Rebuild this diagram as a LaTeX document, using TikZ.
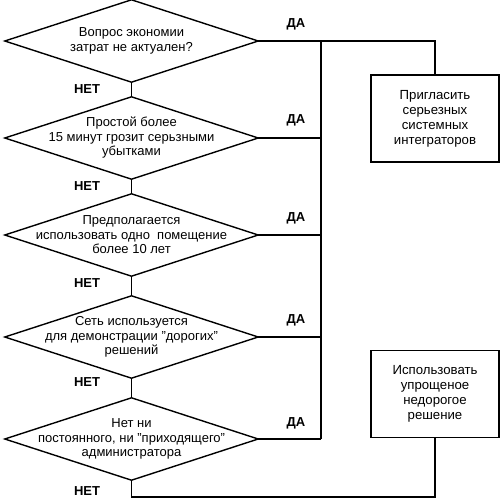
\documentclass[tikz,border=0pt]{standalone}
\usepackage{fontspec}
\setmainfont{Liberation Sans}
\begin{document}
\begin{tikzpicture}[x=1pt,y=-1pt,
  dec/.style={minimum width=253pt,minimum height=82pt,inner sep=0pt,align=center,font=\fontsize{13}{14.5}\selectfont},
  act/.style={draw,line width=1.4pt,minimum width=128pt,minimum height=87pt,inner sep=0pt,align=center,font=\fontsize{13.2}{15}\selectfont},
  lbl/.style={inner sep=0pt,font=\bfseries\fontsize{13}{14}\selectfont},
  conn/.style={line width=1.4pt}]
\useasboundingbox (0,0) rectangle (500,500);
\node[dec] (d1) at (131.5,41) {Вопрос экономии\\затрат не актуален?};
\node[dec] (d2) at (131.5,138) {Простой более\\15 минут грозит серьзными\\убытками};
\node[dec] (d3) at (131.5,235) {Предполагается\\использовать одно\ \ помещение\\более 10 лет};
\node[dec] (d4) at (131.5,337) {Сеть используется\\для демонстрации "дорогих"\\решений};
\node[dec] (d5) at (131.5,439) {Нет ни\\постоянного, ни "приходящего"\\администратора};
\foreach \n in {d1,d2,d3,d4,d5}
  \draw[conn,line join=miter] (\n.west) -- (\n.north) -- (\n.east) -- (\n.south) -- cycle;
\node[act] (b1) at (435,118.5) {Пригласить\\серьезных\\системных\\интеграторов};
\node[act] (b2) at (435,394) {Использовать\\упрощеное\\недорогое\\решение};
\coordinate (bus) at (321,41);
\coordinate (bot) at (131.5,497);
% NET links
\draw[conn] (d1.south) -- (d2.north);
\draw[conn] (d2.south) -- (d3.north);
\draw[conn] (d3.south) -- (d4.north);
\draw[conn] (d4.south) -- (d5.north);
% YES links
\draw[conn] (d1.east) -| (b1.north);
\draw[conn] (d1.east -| bus) -- (d5.east -| bus);
\draw[conn] (d2.east) -- (d2.east -| bus);
\draw[conn] (d3.east) -- (d3.east -| bus);
\draw[conn] (d4.east) -- (d4.east -| bus);
\draw[conn] (d5.east) -- (d5.east -| bus);
\draw[conn] (d5.south) -- (bot) -| (b2.south);
% labels
\node[lbl] (y1) at (296,24) {ДА};
\node[lbl] (y2) at (296,120) {ДА};
\node[lbl] (y3) at (296,218) {ДА};
\node[lbl] (y4) at (296,320) {ДА};
\node[lbl] (y5) at (296,423) {ДА};
\node[lbl] (n1) at (87,89) {НЕТ};
\node[lbl] (n2) at (87,186) {НЕТ};
\node[lbl] (n3) at (87,283) {НЕТ};
\node[lbl] (n4) at (87,382) {НЕТ};
\node[lbl] (n5) at (87,491) {НЕТ};
\end{tikzpicture}
\end{document}
